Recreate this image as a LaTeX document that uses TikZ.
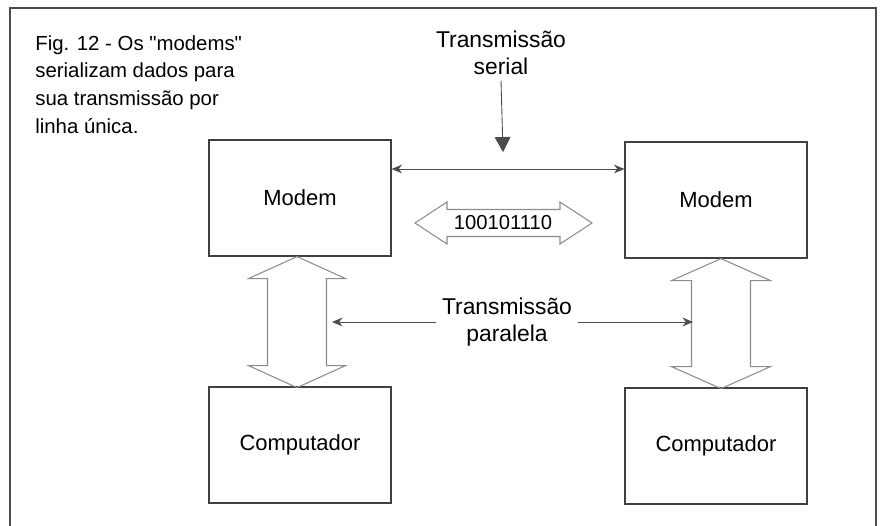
\documentclass[tikz,border=0pt]{standalone}
\usepackage{fontspec}
\setmainfont{Liberation Sans}
\usetikzlibrary{arrows.meta}

\tikzset{
	caixa/.style = { draw = black!75, line width = 0.7pt, minimum width = 3.64cm, minimum height = 2.32cm, inner sep = 0pt, font = \fontsize{12.5}{15}\selectfont },
	rotulo/.style = { align = center, inner sep = 3pt, font = \fontsize{13}{15.5}\selectfont },
	oca/.style = { draw = black!45, line width = 0.6pt, line join = miter },
	seta/.style = { draw = black!70, line width = 0.5pt, -{Stealth[length = 6pt, width = 5pt]} },
	setas/.style = { draw = black!70, line width = 0.5pt, {Stealth[length = 6pt, width = 5pt]}-{Stealth[length = 6pt, width = 5pt]} },
	desce/.style = { draw = black!70, line width = 0.5pt, -{Triangle[length = 8.5pt, width = 9pt]} }
}

\begin{document}
\begin{tikzpicture}[x = 0.02cm, y = -0.02cm]
		\useasboundingbox ( 0, 0 ) rectangle ( 885, 526 );

		% moldura
		\draw [black!70, line width = 0.6pt] ( 10, 526 ) -- ( 10, 8 ) -- ( 876, 8 ) -- ( 876, 526 );

		% legenda
		\node [anchor = north west, align = left, inner sep = 0pt, font = \fontsize{11.6}{15.8}\selectfont] (leg) at ( 35, 35 )
			{Fig. 12 - Os \textquotedbl modems\textquotedbl\\ serializam dados para\\ sua transmissão por\\ linha única.};

		% modems e computadores
		\node [caixa] (mL) at ( 300, 198 ) {Modem};
		\node [caixa] (mR) at ( 716, 200 ) {Modem};
		\node [caixa] (cL) at ( 300, 445 ) {Computador};
		\node [caixa] (cR) at ( 716, 446 ) {Computador};

		% transmissao serial
		\node [rotulo] (ser) at ( 501, 53 ) {Transmissão\\ serial};
		\coordinate (ps) at ( 503, 152 );
		\coordinate (ls) at ( 503, 169 );
		\draw [desce] (ser.south) -- (ps);
		\draw [setas] (mL.east |- ls) -- (mR.west |- ls);
		\node [inner sep = 0pt, font = \fontsize{11.5}{13}\selectfont] (bits) at ( 503, 223 ) {100101110};
		\draw [oca] (bits.center) ++( -88, 0 ) -- ++( 32, -21 ) -- ++( 0, 7.5 ) -- ++( 113, 0 ) -- ++( 0, -7.5 ) -- ++( 32, 21 )
			-- ++( -32, 21 ) -- ++( 0, -7.5 ) -- ++( -113, 0 ) -- ++( 0, 7.5 ) -- cycle;

		% transmissao paralela
		\draw [oca] (mL.south) ++( -3, 0 ) -- ++( 48.5, 22 ) -- ++( -19, 0 ) -- ++( 0, 87 ) -- ++( 19, 0 ) -- ++( -48.5, 22 )
			-- ++( -48.5, -22 ) -- ++( 19, 0 ) -- ++( 0, -87 ) -- ++( -19, 0 ) -- cycle;
		\draw [oca] (mR.south) ++( 5, 0 ) -- ++( 49.5, 22 ) -- ++( -20, 0 ) -- ++( 0, 86 ) -- ++( 20, 0 ) -- ++( -49.5, 22 )
			-- ++( -49.5, -22 ) -- ++( 20, 0 ) -- ++( 0, -86 ) -- ++( -20, 0 ) -- cycle;
		\node [rotulo] (par) at ( 507, 322 ) {Transmissão\\ paralela};
		\coordinate (pl) at ( 332, 322 );
		\coordinate (pr) at ( 693, 322 );
		\draw [seta] (par.west) -- (pl);
		\draw [seta] (par.east) -- (pr);
	\end{tikzpicture}
\end{document}
